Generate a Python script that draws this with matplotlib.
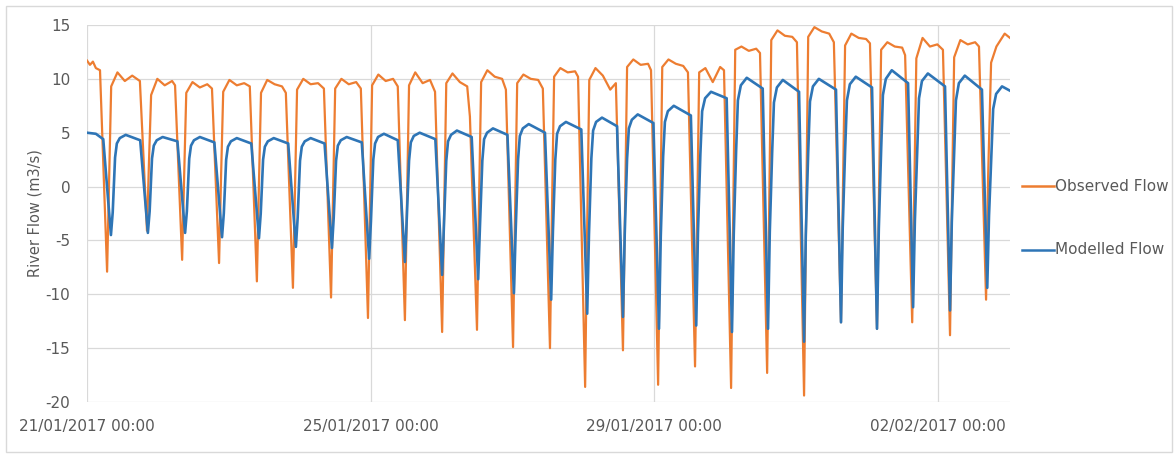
import numpy as np
import matplotlib.pyplot as plt
import matplotlib.dates as mdates
from matplotlib.lines import Line2D
from matplotlib.patches import Rectangle

plt.rcParams['font.family'] = 'DejaVu Sans'
plt.rcParams['axes.unicode_minus'] = False

START = np.datetime64('2017-01-21T00:00')
tick_dates = ['2017-01-21', '2017-01-25', '2017-01-29', '2017-02-02']
series_names = ['Observed Flow', 'Modelled Flow']

# --- modelled flow (hours after 21/01 00:00) ---
mod_head_h = [0.0, 3.0, 5.5]
mod_head = [5.0, 4.9, 4.4]
mod_low_h = [8.1, 20.6, 33.2, 45.7, 58.2, 70.7, 82.9, 95.5, 107.6, 120.2, 132.4, 144.5, 157.1,
             169.3, 181.4, 193.6, 206.2, 218.3, 230.5, 242.7, 255.2, 267.4, 279.6, 292.1, 304.7]
mod_low = [-4.5, -4.3, -4.3, -4.7, -4.8, -5.6, -5.7, -6.7, -7.0, -8.2, -8.6, -9.9, -10.5,
           -11.8, -12.1, -13.2, -12.9, -13.5, -13.2, -14.4, -12.6, -13.2, -11.2, -11.5, -9.4]
# hours between start of the fall and low water
mod_fall_h = [2.6, 2.6, 2.6, 2.6, 2.6, 2.6, 2.5, 2.5, 2.4, 2.3, 2.2, 2.2, 2.1,
              2.0, 2.0, 1.9, 1.8, 1.8, 1.8, 1.7, 1.7, 1.7, 1.7, 1.7, 1.8]
mod_up = [-2.4, -2.3, -2.3, -2.5, -2.5, -2.9, -2.9, -3.2, -3.3, -3.6, -3.7, -4.0, -4.1,
          -4.4, -4.4, -4.6, -4.3, -4.4, -4.2, -4.5, -3.8, -3.9, -3.2, -3.3, -2.7]
mod_rise = [2.7, 2.6, 2.6, 2.5, 2.5, 2.4, 2.4, 2.5, 2.4, 2.4, 2.4, 2.5, 2.5,
            2.6, 2.6, 2.8, 3.0, 3.3, 3.2, 3.2, 3.3, 3.4, 3.2, 3.1, 2.8]
mod_rise2 = [4.0, 3.8, 3.8, 3.7, 3.7, 3.7, 3.8, 4.0, 4.1, 4.2, 4.4, 4.7, 4.9,
             5.2, 5.4, 6.0, 7.0, 8.0, 7.8, 7.9, 8.0, 8.5, 8.2, 8.0, 7.2]
mod_near = [4.5, 4.3, 4.3, 4.2, 4.2, 4.2, 4.3, 4.6, 4.7, 4.8, 5.0, 5.4, 5.6,
            6.0, 6.2, 7.0, 8.2, 9.4, 9.2, 9.3, 9.5, 10.0, 9.8, 9.6, 8.6]
mod_top = [4.8, 4.6, 4.6, 4.5, 4.5, 4.5, 4.6, 4.9, 5.0, 5.2, 5.4, 5.8, 6.0,
           6.4, 6.7, 7.5, 8.8, 10.1, 9.9, 10.0, 10.2, 10.8, 10.5, 10.3, 9.3]
mod_end = [4.3, 4.2, 4.1, 4.0, 4.0, 4.0, 4.1, 4.3, 4.4, 4.6, 4.8, 5.0, 5.3,
           5.6, 5.9, 6.6, 8.2, 9.1, 8.8, 9.0, 9.2, 9.6, 9.3, 9.0]
mod_tail_h = [312.4]
mod_tail = [8.9]

# --- observed flow ---
obs_head_h = [0.0, 1.0, 2.0, 3.0, 4.4]
obs_head = [11.7, 11.3, 11.6, 11.0, 10.8]
obs_low_h = [6.8, 20.3, 32.2, 44.7, 57.5, 69.7, 82.6, 95.1, 107.6, 120.2, 132.0, 144.2, 156.7,
             168.6, 181.4, 193.3, 205.8, 218.0, 230.2, 242.7, 255.2, 267.4, 279.3, 292.1, 304.3]
obs_low = [-7.9, -4.1, -6.8, -7.1, -8.8, -9.4, -10.3, -12.2, -12.4, -13.5, -13.3, -14.9, -15.0,
           -18.6, -15.2, -18.4, -16.7, -18.7, -17.3, -19.4, -12.6, -13.2, -12.6, -13.8, -10.5]
obs_up = [1.0, 2.5, 1.2, 1.2, 0.3, 0.0, -0.5, -1.5, -1.5, -2.0, -1.5, -2.5, -2.0,
          -4.0, -2.0, -3.5, -3.0, -3.0, -2.0, -3.0, 0.0, 0.0, -0.5, -0.5, 1.0]
obs_rise = [9.3, 8.5, 8.7, 8.8, 8.7, 9.0, 9.1, 9.4, 9.4, 9.6, 9.7, 9.6,
            10.2, 9.9, 11.1, 11.1, 10.6, 12.7, 13.6, 13.9, 13.1, 12.7, 11.9, 12.0]
obs_top = [10.6, 10.0, 9.7, 9.9, 9.9, 10.0, 10.0, 10.4, 10.6, 10.5, 10.8, 10.4,
           11.0, 11.0, 11.8, 11.8, 11.0, 13.0, 14.5, 14.8, 14.2, 13.4, 13.8, 13.6]
obs_mid = [9.8, 9.4, 9.2, 9.4, 9.5, 9.5, 9.5, 9.8, 9.6, 9.7, 10.2, 10.0,
           10.6, 10.3, 11.3, 11.4, 9.7, 12.6, 14.0, 14.4, 13.8, 13.0, 13.0, 13.2]
obs_top2 = [10.3, 9.8, 9.5, 9.6, 9.3, 9.6, 9.7, 10.0, 9.9, 9.3, 10.0, 9.9,
            10.7, 9.0, 11.4, 11.2, 11.1, 12.8, 13.9, 14.2, 13.7, 12.9, 13.2, 13.4]
obs_end = [9.8, 9.4, 9.1, 9.3, 8.7, 9.1, 9.1, 9.3, 8.8, 6.5, 9.0, 9.1,
           10.2, 9.6, 10.8, 10.6, 10.8, 12.4, 13.4, 13.4, 13.3, 12.2, 12.7, 13.0]
obs_tail_h = [306.0, 307.8, 310.6, 312.4]
obs_tail = [11.5, 13.0, 14.2, 13.8]


def build_model():
    t, v = list(mod_head_h), list(mod_head)
    n = len(mod_low_h)
    for i in range(n):
        T = mod_low_h[i]
        t += [T, T + 0.6, T + 1.4, T + 2.0, T + 3.0, T + 5.0]
        v += [mod_low[i], mod_up[i], mod_rise[i], mod_rise2[i], mod_near[i], mod_top[i]]
        if i < n - 1:
            t.append(mod_low_h[i + 1] - mod_fall_h[i + 1])
            v.append(mod_end[i])
    return t + mod_tail_h, v + mod_tail


def build_observed():
    t, v = list(obs_head_h), list(obs_head)
    n = len(obs_low_h)
    for i in range(n):
        T = obs_low_h[i]
        t += [T, T + 0.7]
        v += [obs_low[i], obs_up[i]]
        if i < n - 1:
            t += [T + 1.4, T + 3.5, T + 6.0, T + 8.5, obs_low_h[i + 1] - 2.4]
            v += [obs_rise[i], obs_top[i], obs_mid[i], obs_top2[i], obs_end[i]]
    return t + obs_tail_h, v + obs_tail


def to_dates(hours):
    return START + (np.array(hours) * 60).astype('timedelta64[m]')


obs_t, obs_v = build_observed()
mod_t, mod_v = build_model()

orange = '#ED7D31'
blue = '#2E75B6'
grey = '#595959'

fig = plt.figure(figsize=(11.75, 4.57), dpi=100)
ax = fig.add_axes([87 / 1175, 1 - 402 / 457, (1010 - 87) / 1175, (402 - 25) / 457])

ax.plot(to_dates(obs_t), obs_v, color=orange, lw=1.6, solid_joinstyle='round')
ax.plot(to_dates(mod_t), mod_v, color=blue, lw=1.9, solid_joinstyle='round')

ax.set_ylim(-20, 15)
ax.set_yticks(range(-20, 16, 5))
ax.set_xlim(to_dates([0.0])[0], to_dates([312.4])[0])
ax.set_xticks([np.datetime64(d + 'T00:00') for d in tick_dates])
ax.xaxis.set_major_formatter(mdates.DateFormatter('%d/%m/%Y %H:%M'))

ax.grid(True, color='#D9D9D9', lw=0.9)
ax.set_axisbelow(True)
for s in ax.spines.values():
    s.set_visible(False)
ax.tick_params(length=0, colors=grey, labelsize=11)
ax.tick_params(axis='y', pad=12)
ax.tick_params(axis='x', pad=12)
ax.set_ylabel('River Flow (m3/s)', color=grey, fontsize=10.5, labelpad=2)

# legend drawn by hand on the right
for y_px, name, col in [(186, series_names[0], orange), (250, series_names[1], blue)]:
    yf = 1 - y_px / 457
    fig.add_artist(Line2D([1022 / 1175, 1054 / 1175], [yf, yf], color=col, lw=1.8))
    fig.text(1055 / 1175, yf, name, color=grey, fontsize=11, va='center', ha='left')

# chart area border
fig.add_artist(Rectangle((6 / 1175, 5 / 457), 1166 / 1175, 446 / 457, transform=fig.transFigure,
                         fill=False, edgecolor='#D9D9D9', lw=1))

fig.savefig('out.png', dpi=100)
